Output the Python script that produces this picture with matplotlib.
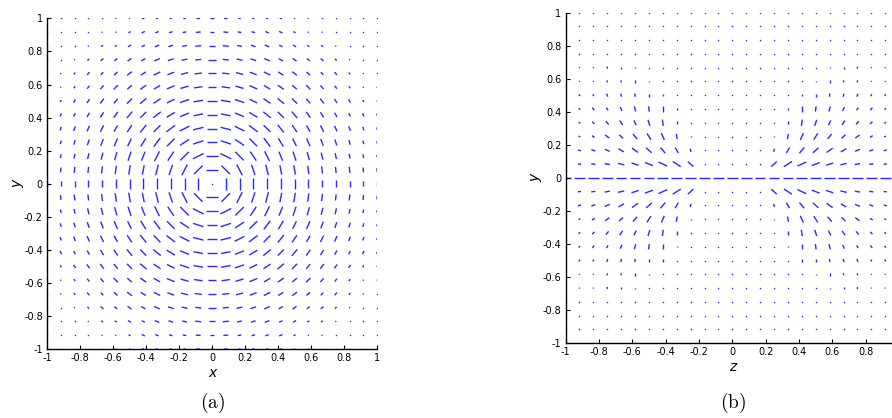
import matplotlib
matplotlib.use('Agg')
import matplotlib.pyplot as plt
from matplotlib.collections import LineCollection
import numpy as np

plt.rcParams['mathtext.fontset'] = 'cm'

# grid: -1 .. 1 in steps of 1/12
grid = np.linspace(-1, 1, 25)

# (a) in-plane length (tenths of max) for one quadrant,
# rows |y| = 0..12 (/12), cols |x| = 0..12 (/12); direction is tangential
len_a = [
    [0, 10, 10, 9, 9, 9, 8, 7, 6, 6, 5, 4, 3],
    [10, 10, 10, 9, 9, 8, 8, 7, 6, 5, 5, 4, 3],
    [10, 10, 10, 9, 9, 8, 8, 7, 6, 5, 4, 3, 2],
    [9, 9, 9, 9, 9, 8, 7, 7, 6, 5, 4, 3, 2],
    [9, 9, 9, 9, 8, 8, 7, 6, 6, 5, 4, 3, 2],
    [9, 8, 8, 8, 8, 7, 7, 6, 5, 4, 3, 3, 2],
    [8, 8, 8, 7, 7, 7, 6, 5, 5, 4, 3, 2, 1],
    [7, 7, 7, 7, 6, 6, 5, 5, 4, 3, 2, 1, 1],
    [6, 6, 6, 6, 6, 5, 5, 4, 3, 3, 2, 1, 0],
    [6, 5, 5, 5, 5, 4, 4, 3, 3, 2, 1, 0, 0],
    [5, 5, 4, 4, 4, 3, 3, 2, 2, 1, 0, 0, 0],
    [4, 4, 3, 3, 3, 3, 2, 1, 1, 0, 0, 0, 0],
    [3, 3, 2, 2, 2, 2, 1, 1, 0, 0, 0, 0, 0],
]

# (b) upper-left quadrant: rows y = 0..12 (/12), cols z = -12..0 (/12)
len_b = [
    [10, 10, 10, 10, 10, 10, 10, 10, 10, 10, 10, 10, 10],
    [3, 3, 4, 5, 6, 7, 8, 9, 9, 7, 0, 0, 0],
    [2, 3, 4, 5, 6, 7, 7, 7, 6, 3, 0, 0, 0],
    [2, 2, 3, 5, 5, 6, 7, 7, 5, 1, 0, 0, 0],
    [2, 2, 3, 4, 5, 5, 6, 6, 3, 0, 0, 0, 0],
    [1, 2, 3, 3, 4, 5, 5, 5, 1, 0, 0, 0, 0],
    [1, 2, 2, 3, 3, 3, 3, 2, 0, 0, 0, 0, 0],
    [1, 1, 1, 2, 2, 3, 1, 0, 0, 0, 0, 0, 0],
    [1, 1, 1, 2, 2, 1, 0, 0, 0, 0, 0, 0, 0],
    [0, 0, 0, 0, 0, 0, 0, 0, 0, 0, 0, 0, 0],
    [0, 0, 0, 0, 0, 0, 0, 0, 0, 0, 0, 0, 0],
    [0, 0, 0, 0, 0, 0, 0, 0, 0, 0, 0, 0, 0],
    [0, 0, 0, 0, 0, 0, 0, 0, 0, 0, 0, 0, 0],
]
# tilt in degrees below the z axis (upper-left quadrant)
ang_b = [
    [0, 0, 0, 0, 0, 0, 0, 0, 0, 0, 0, 0, 0],
    [3, 5, 8, 10, 13, 18, 21, 25, 33, 42, 0, 0, 0],
    [15, 18, 20, 24, 30, 36, 42, 50, 60, 72, 0, 0, 0],
    [25, 28, 32, 36, 42, 50, 58, 66, 80, 90, 0, 0, 0],
    [35, 40, 45, 50, 56, 64, 72, 82, 90, 0, 0, 0, 0],
    [45, 48, 52, 58, 65, 74, 82, 90, 90, 0, 0, 0, 0],
    [55, 58, 62, 70, 76, 84, 90, 90, 0, 0, 0, 0, 0],
    [60, 65, 70, 78, 84, 90, 90, 0, 0, 0, 0, 0, 0],
    [65, 70, 75, 85, 90, 90, 0, 0, 0, 0, 0, 0, 0],
    [0, 0, 0, 0, 0, 0, 0, 0, 0, 0, 0, 0, 0],
    [0, 0, 0, 0, 0, 0, 0, 0, 0, 0, 0, 0, 0],
    [0, 0, 0, 0, 0, 0, 0, 0, 0, 0, 0, 0, 0],
    [0, 0, 0, 0, 0, 0, 0, 0, 0, 0, 0, 0, 0],
]

ticks = [-1, -0.8, -0.6, -0.4, -0.2, 0, 0.2, 0.4, 0.6, 0.8, 1]
tick_labels = ['-1', '-0.8', '-0.6', '-0.4', '-0.2', '0',
               '0.2', '0.4', '0.6', '0.8', '1']

color = '#2a2aff'
L_a = 0.073
L_b = 0.064


def field_a():
    X, Y = np.meshgrid(grid, grid)
    n = len(grid) // 2
    idx = np.abs(np.arange(len(grid)) - n)
    A = np.array(len_a, dtype=float) / 10.0
    m = A[idx[:, None], idx[None, :]]
    r = np.hypot(X, Y)
    r[r == 0] = 1
    U = -Y / r * m * L_a
    V = X / r * m * L_a
    return X, Y, U, V


def field_b():
    X, Y = np.meshgrid(grid, grid)
    n = len(grid) // 2
    row = np.abs(np.arange(len(grid)) - n)
    col = n - np.abs(np.arange(len(grid)) - n)
    B = np.array(len_b, dtype=float) / 10.0
    T = np.radians(np.array(ang_b, dtype=float))
    m = B[row[:, None], col[None, :]]
    a = T[row[:, None], col[None, :]]
    s = -np.sign(X) * np.sign(Y)
    s[s == 0] = 1
    U = np.cos(a) * m * L_b
    V = -s * np.sin(a) * m * L_b
    return X, Y, U, V


def draw_field(ax, X, Y, U, V):
    # headless segments centred on the grid points
    x0 = (X - U / 2).ravel()
    y0 = (Y - V / 2).ravel()
    x1 = (X + U / 2).ravel()
    y1 = (Y + V / 2).ravel()
    segs = np.stack([np.column_stack([x0, y0]), np.column_stack([x1, y1])], axis=1)
    lc = LineCollection(segs, colors=color, linewidths=1.0, capstyle='butt',
                        zorder=1)
    ax.add_collection(lc)
    # zero-length vectors show as dots
    zero = (np.hypot(U, V) < 0.004)
    ax.scatter(X[zero], Y[zero], s=1.2, color=color, linewidths=0, zorder=1)


def style(ax, xlabel, labels):
    ax.set_xlim(-1, 1)
    ax.set_ylim(-1, 1)
    ax.set_xticks(ticks)
    ax.set_yticks(ticks)
    ax.set_xticklabels(labels)
    ax.set_yticklabels(tick_labels)
    ax.tick_params(direction='in', length=3, width=0.8, labelsize=7, pad=3)
    for sp in ['top', 'right']:
        ax.spines[sp].set_visible(False)
    for sp in ['left', 'bottom']:
        ax.spines[sp].set_linewidth(1.0)
    ax.set_xlabel(xlabel, fontsize=10, style='italic', labelpad=2)
    ax.set_ylabel('y', fontsize=10, style='italic', labelpad=0)


fig = plt.figure(figsize=(8.92, 4.18), dpi=100)
ax1 = fig.add_axes([0.0527, 0.165, 0.370, 0.791])
ax2 = fig.add_axes([0.634, 0.179, 0.374, 0.791])

draw_field(ax1, *field_a())
draw_field(ax2, *field_b())

style(ax1, 'x', tick_labels)
style(ax2, 'z', tick_labels[:-1] + [''])

fig.text(0.238, 0.025, r'$\mathrm{(a)}$', ha='center', fontsize=14)
fig.text(0.822, 0.025, r'$\mathrm{(b)}$', ha='center', fontsize=14)

plt.savefig('out.png', dpi=100)
